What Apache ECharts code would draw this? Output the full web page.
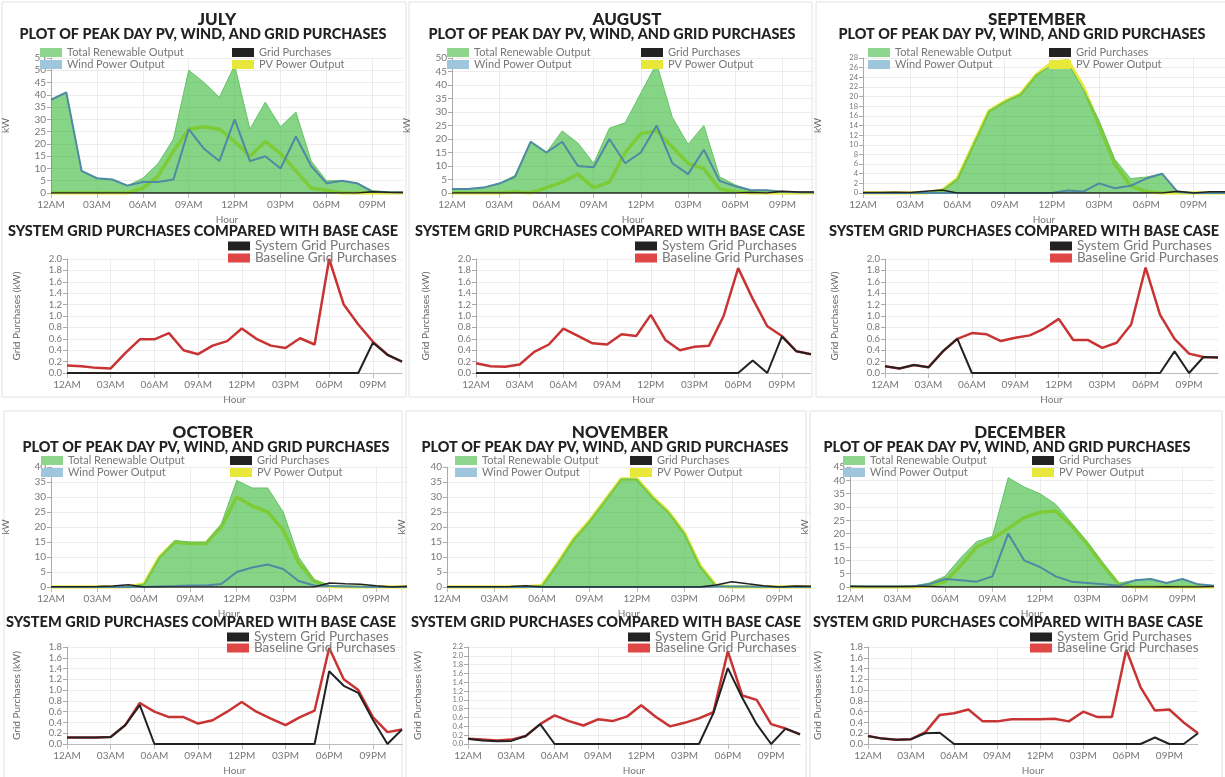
<!DOCTYPE html>
<html>
<head>
<meta charset="utf-8">
<script src="https://cdn.jsdelivr.net/npm/echarts@6/dist/echarts.min.js"></script>
<style>
html,body{margin:0;padding:0;background:#fff}
#main{width:1225px;height:777px}
</style>
</head>
<body>
<div id="main"></div>
<script>
var hours = ['12AM','01AM','02AM','03AM','04AM','05AM','06AM','07AM','08AM','09AM','10AM','11AM',
             '12PM','01PM','02PM','03PM','04PM','05PM','06PM','07PM','08PM','09PM','10PM','11PM'];

// peak day output (kW)
var julTotal = [38,41,9,6,5.5,3,6,12,22,50,45,39,52,26,37,27,33,13,5,5,4,1,0.5,0.3];
var julWind  = [38,41,9,6,5.5,3,4.5,4.5,5.5,26,18,13,30,13,15,10,23,11,4,5,4,0.5,0.3,0.2];
var julPv    = [0,0,0,0,0,0,2,7,17,26,27,26,21,15,21,16,9,2,1,0,0,0,0,0];
var augTotal = [1.5,1.5,2,3.5,6.5,19,15,23,18.5,11,24,26,37,48,28,18,25,6,3,1,1,0.5,0.3,0.2];
var augWind  = [1.5,1.5,2,3.5,6,19,15,19,10,9.5,20,11,15,25,11,7,16,4.5,2.5,1,1,0.5,0.3,0.2];
var augPv    = [0,0,0,0,0.5,0,2,4,7,2,4,15,22,23,17,11,9,1.5,0.5,0,0,0,0,0];
var sepTotal = [0,0,0,0,0,0.5,3,10,17,19,20.5,24.5,26.5,27,21.5,15,7,3,3.3,4,0.2,0,0,0];
var sepWind  = [0,0,0,0,0,0,0,0,0,0,0,0,0,0.5,0.3,2,1,1.5,3,4,0.2,0,0,0];
var sepPv    = [0,0,0,0,0,0.5,3,10,17,19,20.5,24.5,27,27.5,22,14,6,1.5,0.3,0,0,0,0,0];
var octTotal = [0,0,0,0,0,0,1,10,15.5,15,15,21,35.5,33,33,25,10,2.5,0.5,0.3,0.2,0,0,0];
var octWind  = [0,0,0,0,0,0,0,0.2,0.3,0.5,0.5,1,5,6.5,7.5,6,2,0.5,0.3,0.2,0.1,0,0,0];
var octPv    = [0,0,0,0,0,0,1,10,15,14.5,14.5,20,30,27,25,19,8,2,0.2,0,0,0,0,0];
var novTotal = [0,0,0,0,0,0,0.5,8,16,22,29,36,36,30,25,18,7,0.5,0,0,0,0,0,0];
var novWind  = [0,0,0,0,0,0,0,0,0,0,0,0,0,0,0,0,0,0.2,0.2,0.2,0.1,0,0,0];
var novPv    = [0,0,0,0,0,0,0.5,8,16,22,29,36,36,30,25,18,7,0.5,0,0,0,0,0,0];
var decTotal = [0.3,0.3,0.3,0.3,0.3,1.5,4,11,17,19,41,37.5,35,31,24,17,9,1.5,2.5,3,1.5,3,1,0.5];
var decWind  = [0.3,0.3,0.3,0.3,0.3,1,3,2.5,2,4,20,10,7.5,4,2,1.5,1,0.5,2.5,3,1.5,3,1,0.5];
var decPv    = [0,0,0,0,0,0.5,2,8,15,18,22,26,28,28.5,23,16,8,1,0,0,0,0,0,0];

// grid purchases (kW): system vs baseline
var julSystem   = [0,0,0,0,0,0,0,0,0,0,0,0,0,0,0,0,0,0,0,0,0,0.53,0.32,0.2];
var julBaseline = [0.13,0.12,0.09,0.08,0.35,0.59,0.59,0.7,0.4,0.33,0.48,0.56,0.78,0.6,0.48,0.44,0.61,0.5,2.0,1.2,0.85,0.55,0.32,0.2];
var augSystem   = [0,0,0,0,0,0,0,0,0,0,0,0,0,0,0,0,0,0,0,0.22,0,0.64,0.38,0.33];
var augBaseline = [0.17,0.12,0.11,0.15,0.37,0.5,0.78,0.65,0.52,0.5,0.68,0.65,1.02,0.58,0.4,0.46,0.48,1.0,1.84,1.3,0.82,0.65,0.38,0.33];
var sepSystem   = [0.12,0.08,0.14,0.1,0.38,0.6,0,0,0,0,0,0,0,0,0,0,0,0,0,0,0.38,0,0.28,0.27];
var sepBaseline = [0.12,0.08,0.14,0.1,0.38,0.6,0.7,0.68,0.56,0.62,0.66,0.78,0.95,0.58,0.58,0.44,0.53,0.85,1.85,1.02,0.6,0.34,0.28,0.27];
var octSystem   = [0.12,0.12,0.12,0.13,0.35,0.72,0,0,0,0,0,0,0,0,0,0,0,0,1.35,1.08,0.95,0.45,0,0.27];
var octBaseline = [0.12,0.12,0.12,0.13,0.35,0.76,0.6,0.5,0.5,0.38,0.44,0.6,0.78,0.6,0.47,0.35,0.5,0.62,1.78,1.2,1.0,0.5,0.22,0.27];
var novSystem   = [0.12,0.08,0.06,0.07,0.18,0.45,0,0,0,0,0,0,0,0,0,0,0,0.7,1.72,1.05,0.45,0,0.35,0.22];
var novBaseline = [0.12,0.1,0.08,0.1,0.18,0.45,0.65,0.52,0.42,0.56,0.52,0.62,0.88,0.62,0.4,0.48,0.58,0.72,2.1,1.1,1.0,0.45,0.35,0.22];
var decSystem   = [0.15,0.1,0.08,0.09,0.2,0.21,0,0,0,0,0,0,0,0,0,0,0,0,0,0,0.12,0,0,0.2];
var decBaseline = [0.15,0.1,0.08,0.09,0.22,0.54,0.57,0.64,0.42,0.42,0.46,0.46,0.46,0.47,0.42,0.6,0.5,0.5,1.75,1.05,0.62,0.64,0.4,0.2];

var panels = [
  {month:'JULY', total:julTotal, wind:julWind, pv:julPv, sys:julSystem, base:julBaseline, kwMax:55, kwStep:5, gpMax:2.0,
   row:0, cx:217, sx:203, gx:203, top:[42,361], grd:[67,335], leg:[40,232], gleg:228},
  {month:'AUGUST', total:augTotal, wind:augWind, pv:augPv, sys:augSystem, base:augBaseline, kwMax:50, kwStep:5, gpMax:2.0,
   row:0, cx:627, sx:612, gx:610, top:[452,362], grd:[476,335], leg:[447,641], gleg:635},
  {month:'SEPTEMBER', total:sepTotal, wind:sepWind, pv:sepPv, sys:sepSystem, base:sepBaseline, kwMax:28, kwStep:2, gpMax:2.0,
   row:0, cx:1037, sx:1022, gx:1024, top:[863,371], grd:[885,333], leg:[868,1049], gleg:1050},
  {month:'OCTOBER', total:octTotal, wind:octWind, pv:octPv, sys:octSystem, base:octBaseline, kwMax:40, kwStep:5, gpMax:1.8,
   row:1, cx:213, sx:206, gx:201, top:[45,362], grd:[67,335], leg:[41,230], gleg:227},
  {month:'NOVEMBER', total:novTotal, wind:novWind, pv:novPv, sys:novSystem, base:novBaseline, kwMax:40, kwStep:5, gpMax:2.2,
   row:1, cx:620, sx:605, gx:606, top:[447,364], grd:[468,332], leg:[455,630], gleg:628},
  {month:'DECEMBER', total:decTotal, wind:decWind, pv:decPv, sys:decSystem, base:decBaseline, kwMax:45, kwStep:5, gpMax:1.8,
   row:1, cx:1020, sx:1007, gx:1008, top:[850,364], grd:[868,330], leg:[843,1032], gleg:1030}
];

var rows = [
  {title:11, sub:27, leg:47, plotTop:58, plotH:135, gTitle:224, gLeg:[239,251], gTop:259, gH:114},
  {title:424, sub:440, leg:455, plotTop:467, plotH:120, gTitle:615, gLeg:[630,641], gTop:647, gH:101}
];

var FONT = 'Lato';
var option = {
  animation: false,
  backgroundColor: '#fff',
  textStyle: {fontFamily: FONT},
  title: [], legend: [], grid: [], xAxis: [], yAxis: [], series: [],
  graphic: [
    {type:'rect', shape:{x:2,y:2,width:404,height:395}, style:{fill:'none',stroke:'#e2e2e2'}, silent:true},
    {type:'rect', shape:{x:409,y:2,width:403,height:395}, style:{fill:'none',stroke:'#e2e2e2'}, silent:true},
    {type:'rect', shape:{x:816,y:2,width:412,height:395}, style:{fill:'none',stroke:'#e2e2e2'}, silent:true},
    {type:'rect', shape:{x:4,y:411,width:398,height:370}, style:{fill:'none',stroke:'#e2e2e2'}, silent:true},
    {type:'rect', shape:{x:406,y:411,width:400,height:370}, style:{fill:'none',stroke:'#e2e2e2'}, silent:true},
    {type:'rect', shape:{x:810,y:411,width:412,height:370}, style:{fill:'none',stroke:'#e2e2e2'}, silent:true}
  ]
};

function xAxisFor(gridIndex) {
  return {
    type: 'category', gridIndex: gridIndex, data: hours, boundaryGap: false,
    name: 'Hour', nameLocation: 'middle', nameGap: 22,
    nameTextStyle: {fontSize: 10, color: '#777'},
    axisLine: {lineStyle: {color: '#bbb'}},
    axisTick: {interval: 2, lineStyle: {color: '#bbb'}},
    axisLabel: {interval: 2, fontSize: 10, color: '#777', margin: 7},
    splitLine: {show: true, interval: 2, lineStyle: {color: '#ececec'}}
  };
}
// crowded axes get a smaller label font so the end labels are not dropped
function yAxisFor(gridIndex, height, max, step, name, gap, dec) {
  var perTick = height / Math.round(max / step);
  return {
    type: 'value', gridIndex: gridIndex, min: 0, max: max, interval: step,
    name: name, nameLocation: 'middle', nameGap: gap,
    nameTextStyle: {fontSize: 10, color: '#666'},
    axisLine: {show: true, lineStyle: {color: '#aaa'}},
    axisTick: {show: true, length: 4, lineStyle: {color: '#aaa'}},
    axisLabel: {fontSize: Math.min(10, Math.floor(perTick) - 1.5), color: '#777', margin: 5,
      formatter: function (v) { return dec ? v.toFixed(1) : String(v); }},
    splitLine: {show: true, lineStyle: {color: '#ececec'}}
  };
}
function line(name, gi, data, color, width, z, extra) {
  var s = {
    name: name, type: 'line', xAxisIndex: gi, yAxisIndex: gi, data: data,
    showSymbol: false, symbol: 'none', z: z,
    lineStyle: {color: color, width: width}, itemStyle: {color: color}
  };
  for (var k in extra) s[k] = extra[k];
  return s;
}
function titleText(text, x, y, size) {
  return {text: text, left: x, top: y, textAlign: 'center', padding: 0,
    textStyle: {fontSize: size, fontWeight: 900, color: '#222', fontFamily: FONT}};
}
function legendBox(x, y, items, fontSize, orient) {
  return {
    orient: orient, left: x, top: y, padding: 0, icon: 'rect', itemWidth: 22, itemHeight: 9, itemGap: 1,
    selectedMode: false, textStyle: {fontSize: fontSize, color: '#777', lineHeight: 11},
    data: items
  };
}

panels.forEach(function (p, i) {
  var r = rows[p.row];
  var g1 = i * 2, g2 = i * 2 + 1;

  option.title.push(titleText(p.month, p.cx, r.title, 17));
  option.title.push(titleText('PLOT OF PEAK DAY PV, WIND, AND GRID PURCHASES', p.sx, r.sub, 14.4));
  option.title.push(titleText('SYSTEM GRID PURCHASES COMPARED WITH BASE CASE', p.gx, r.gTitle, 14.5));

  option.legend.push(legendBox(p.leg[0], r.leg, [
    {name: 'Total Renewable Output', itemStyle: {color: '#8ed68e'}},
    {name: 'Wind Power Output', itemStyle: {color: '#9ec6dc'}}], 11, 'vertical'));
  option.legend.push(legendBox(p.leg[1], r.leg, [
    {name: 'Grid Purchases', itemStyle: {color: '#222'}},
    {name: 'PV Power Output', itemStyle: {color: '#e8e83a'}}], 11, 'vertical'));
  option.legend.push(legendBox(p.gleg, r.gLeg[0], [
    {name: 'System Grid Purchases', itemStyle: {color: '#222'}}], 13.5, 'horizontal'));
  option.legend.push(legendBox(p.gleg, r.gLeg[1], [
    {name: 'Baseline Grid Purchases', itemStyle: {color: '#e04646'}}], 13.5, 'horizontal'));

  option.grid.push({left: p.top[0], top: r.plotTop, width: p.top[1], height: r.plotH});
  option.grid.push({left: p.grd[0], top: r.gTop, width: p.grd[1], height: r.gH});
  option.xAxis.push(xAxisFor(g1));
  option.xAxis.push(xAxisFor(g2));
  option.yAxis.push(yAxisFor(g1, r.plotH, p.kwMax, p.kwStep, 'kW', 40, false));
  option.yAxis.push(yAxisFor(g2, r.gH, p.gpMax, 0.2, 'Grid Purchases (kW)', 45, true));

  option.series.push(line('PV Power Output', g1, p.pv, '#e8e83a', 3.5, 2));
  option.series.push(line('Total Renewable Output', g1, p.total, '#66c266', 1, 3,
    {areaStyle: {color: 'rgb(53,183,53)', opacity: 0.6}}));
  option.series.push(line('Wind Power Output', g1, p.wind, '#4f89a3', 2, 4));
  option.series.push(line('Grid Purchases', g1, p.sys, '#222', 1.5, 5));
  option.series.push(line('Baseline Grid Purchases', g2, p.base, '#c83434', 2.5, 2));
  option.series.push(line('System Grid Purchases', g2, p.sys, '#222', 2, 3));
});

var chart = echarts.init(document.getElementById('main'));
chart.setOption(option);
window.onresize = function () { chart.resize(); };
</script>
</body>
</html>
